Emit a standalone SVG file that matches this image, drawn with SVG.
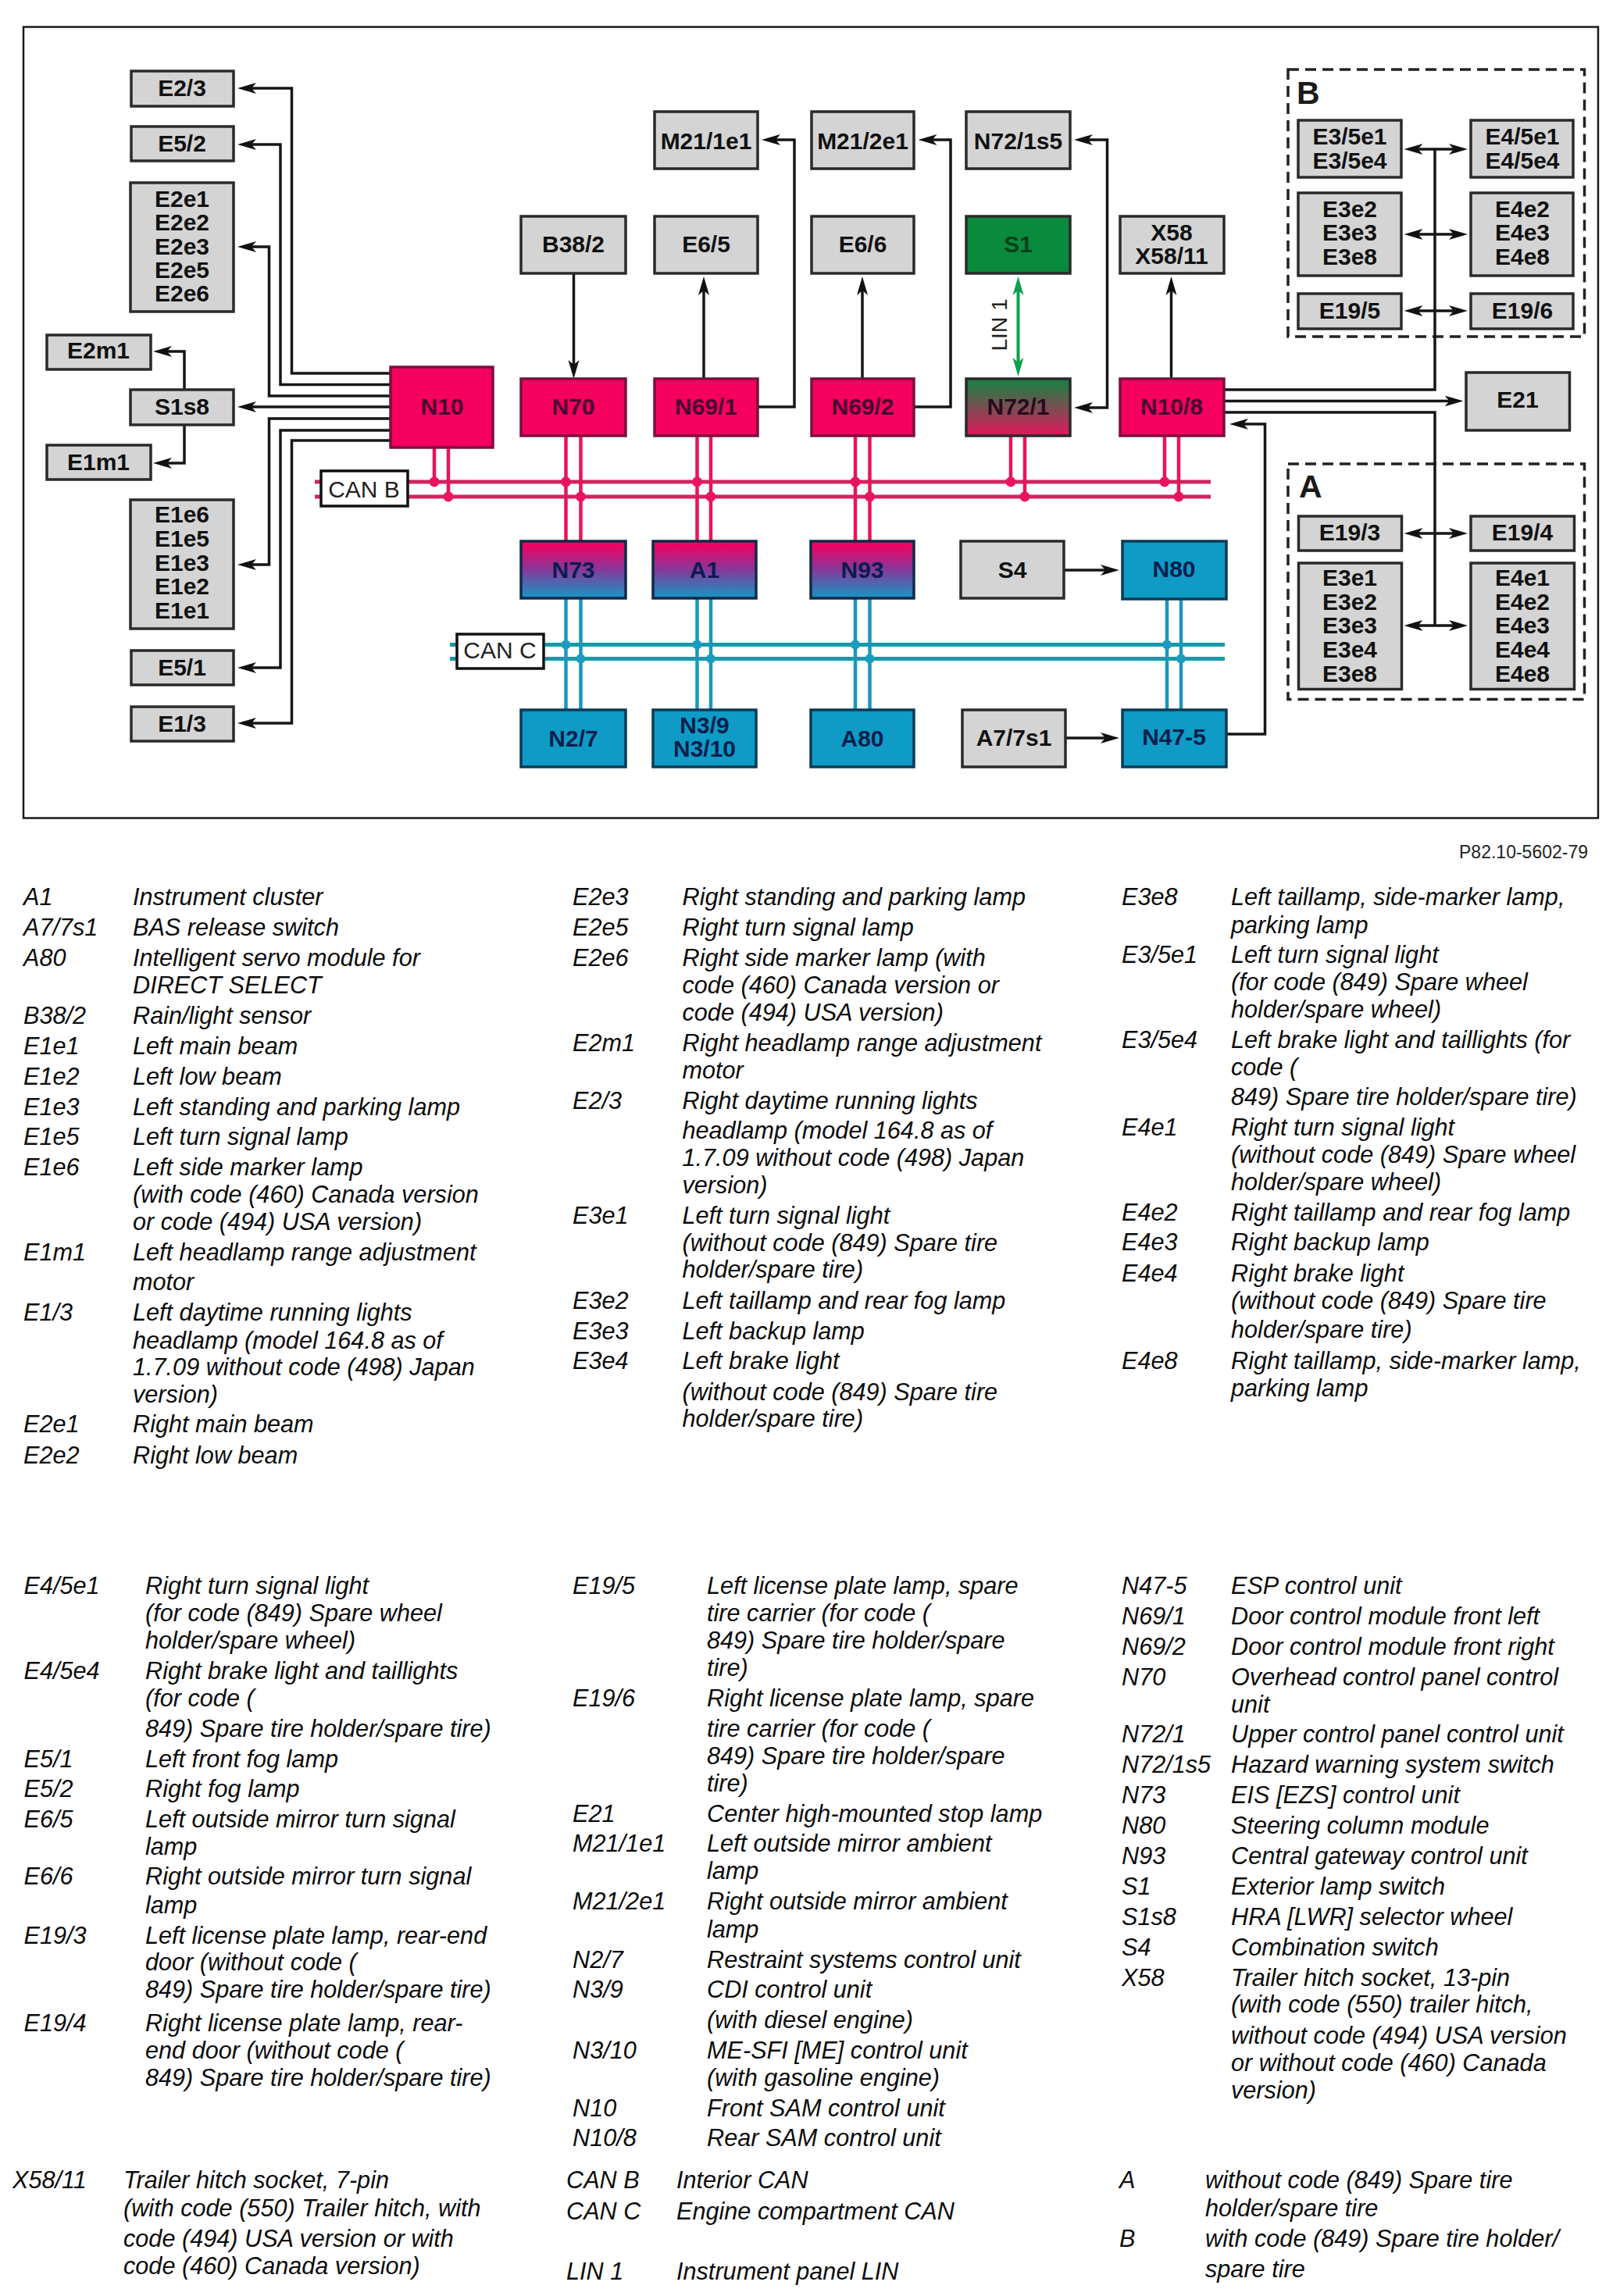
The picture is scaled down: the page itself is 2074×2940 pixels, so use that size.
<svg xmlns="http://www.w3.org/2000/svg" width="2074" height="2940" viewBox="0 0 2074 2940">
<style>
text{font-family:"Liberation Sans",Arial,sans-serif}
.n rect{stroke:#2a2a2a;stroke-width:3.500}
.n text{font-weight:700;font-size:30px;text-anchor:middle;fill:#111}
.g rect{fill:#d4d4d4}
.m rect{fill:#f5005f;stroke:#7a1040}
.m text{fill:#480430}
.c rect{fill:#0e9bc6;stroke:#0c3a55}
.c text{fill:#081e4c}
.f rect{fill:url(#mc);stroke:#102a48}
.f text{fill:#0a1c50}
.bus rect{fill:#fff;stroke:#111;stroke-width:3.500}
.bus text{font-size:30px;text-anchor:middle;fill:#222}
.w{fill:none;stroke:#161616;stroke-width:3.500}
.a{marker-end:url(#ah)}
.d{marker-start:url(#ah);marker-end:url(#ah)}
.dash{fill:none;stroke:#222;stroke-width:3.500;stroke-dasharray:14 8}
.big{font-size:41px;font-weight:700;fill:#1a1a1a}
.pk{stroke:#e8135f;stroke-width:4.500;fill:none}
.pb{stroke:#cf2460;stroke-width:5;fill:none}
.cy{stroke:#1a96bb;stroke-width:4.500;fill:none}
.cb{stroke:#159aa8;stroke-width:5;fill:none}
.pd{fill:#ea1360}
.cd{fill:#1a9cc0}
.l text{font-size:30.650px;font-style:italic;fill:#0c0c0c}
</style>
<defs>
<marker id="ah" markerUnits="userSpaceOnUse" markerWidth="28" markerHeight="18" refX="16" refY="9" orient="auto-start-reverse"><path d="M0 2 L24 9 L0 16 L6 9 Z" fill="#111"/></marker>
<marker id="ag" markerUnits="userSpaceOnUse" markerWidth="28" markerHeight="18" refX="16" refY="9" orient="auto-start-reverse"><path d="M0 2 L24 9 L0 16 L6 9 Z" fill="#0f9d50"/></marker>
<linearGradient id="mc" x1="0" y1="0" x2="0" y2="1"><stop offset="0.05" stop-color="#f5005f"/><stop offset="0.5" stop-color="#86389a"/><stop offset="0.95" stop-color="#1e8fc0"/></linearGradient>
<linearGradient id="gm" x1="0" y1="0" x2="0" y2="1"><stop offset="0.1" stop-color="#257a45"/><stop offset="0.95" stop-color="#d81c5c"/></linearGradient>
</defs>
<rect width="2074" height="2940" fill="#fff"/>
<rect id="frame" x="30" y="34.500" width="2016" height="1013" fill="#fff" stroke="#1a1a1a" stroke-width="2.500"/>

<g id="groups">
<rect class="dash" x="1649" y="89" width="379.500" height="342"/>
<text class="big" x="1660" y="133">B</text>
<rect class="dash" x="1649" y="594" width="379.500" height="301.500"/>
<text class="big" x="1663" y="637">A</text>
</g>

<g id="connectors">
<path class="w a" d="M500 478H373.500V113H312"/>
<path class="w a" d="M500 492.500H359V185H312"/>
<path class="w a" d="M500 507H344.500V316H312"/>
<path class="w a" d="M500 521H312"/>
<path class="w a" d="M500 536H344.500V723H312"/>
<path class="w a" d="M500 551H359V855H312"/>
<path class="w a" d="M500 564H373.500V926H312"/>
<path class="w a" d="M236 499V450H204"/>
<path class="w a" d="M236 544V593H204"/>
<path class="w a" d="M734.500 350V477"/>
<path class="w a" d="M901 485V362"/>
<path class="w a" d="M1104 485V362"/>
<path class="w a" d="M970 521H1017V179H983"/>
<path class="w a" d="M1170 521H1217V179H1183.500"/>
<path class="w d" d="M1383 179H1417.500V522H1383"/>
<path class="w a" d="M1499.500 485V362"/>
<path fill="none" stroke="#0f9d50" stroke-width="4" marker-start="url(#ag)" marker-end="url(#ag)" d="M1303.500 362V474"/>
<path class="w" d="M1567 499H1837V191"/>
<path class="w a" d="M1567 513.500H1865.500"/>
<path class="w" d="M1567 528H1837V801"/>
<path class="w a" d="M1570 940H1619.500V543H1582"/>
<path class="w d" d="M1805.500 191H1871"/>
<path class="w d" d="M1805.500 300H1871"/>
<path class="w d" d="M1805.500 398H1871"/>
<path class="w d" d="M1805.500 683H1871"/>
<path class="w d" d="M1805.500 801H1871"/>
<path class="w a" d="M1362 730H1425"/>
<path class="w a" d="M1364 945H1425"/>
<g id="can-b-bus">
<path class="pb" d="M403 617H1550M403 636H1550"/>
<path class="pk" d="M556 573V617M574 573V636M724.500 558V693M743.500 558V693M892.500 558V693M910 558V693M1095 558V693M1113.500 558V693M1294 558V617M1312 558V636M1491 558V617M1509 558V636"/>
<g class="pd"><circle cx="556" cy="617" r="6.500"/><circle cx="574" cy="636" r="6.500"/><circle cx="724.500" cy="617" r="6.500"/><circle cx="743.500" cy="636" r="6.500"/><circle cx="892.500" cy="617" r="6.500"/><circle cx="910" cy="636" r="6.500"/><circle cx="1095" cy="617" r="6.500"/><circle cx="1113.500" cy="636" r="6.500"/><circle cx="1294" cy="617" r="6.500"/><circle cx="1312" cy="636" r="6.500"/><circle cx="1491" cy="617" r="6.500"/><circle cx="1509" cy="636" r="6.500"/></g>
</g>
<g id="can-c-bus">
<path class="cb" d="M576 825.500H1568M576 843.500H1568"/>
<path class="cy" d="M724.500 766V909M743.500 766V909M892.500 766V909M910 766V909M1095 766V909M1113.500 766V909M1494 767V909M1512 767V909"/>
<g class="cd"><circle cx="724.500" cy="825.500" r="6"/><circle cx="743.500" cy="843.500" r="6"/><circle cx="892.500" cy="825.500" r="6"/><circle cx="910" cy="843.500" r="6"/><circle cx="1095" cy="825.500" r="6"/><circle cx="1113.500" cy="843.500" r="6"/><circle cx="1494" cy="825.500" r="6"/><circle cx="1512" cy="843.500" r="6"/></g>
</g>
<text id="lin1-label" transform="translate(1289 416) rotate(-90)" font-size="28" text-anchor="middle" fill="#222">LIN 1</text>
</g>

<g id="E2-3" class="n g"><rect x="168" y="91" width="131" height="45"/><text x="233" y="123">E2/3</text></g>
<g id="E5-2" class="n g"><rect x="168" y="162" width="131" height="44"/><text x="233" y="194">E5/2</text></g>
<g id="E2e" class="n g"><rect x="167" y="234" width="132" height="165"/><text x="233" y="264.500">E2e1</text><text x="233" y="295">E2e2</text><text x="233" y="325.500">E2e3</text><text x="233" y="355.500">E2e5</text><text x="233" y="386">E2e6</text></g>
<g id="E2m1" class="n g"><rect x="60" y="429" width="133" height="44"/><text x="126" y="459">E2m1</text></g>
<g id="S1s8" class="n g"><rect x="167" y="499" width="132" height="45"/><text x="233" y="531">S1s8</text></g>
<g id="E1m1" class="n g"><rect x="60" y="570" width="133" height="44"/><text x="126" y="602">E1m1</text></g>
<g id="E1e" class="n g"><rect x="167" y="640" width="132" height="165"/><text x="233" y="669">E1e6</text><text x="233" y="700">E1e5</text><text x="233" y="731">E1e3</text><text x="233" y="761">E1e2</text><text x="233" y="792">E1e1</text></g>
<g id="E5-1" class="n g"><rect x="168" y="833" width="131" height="44"/><text x="233" y="865">E5/1</text></g>
<g id="E1-3" class="n g"><rect x="168" y="905" width="131" height="44"/><text x="233" y="937">E1/3</text></g>
<g id="N10" class="n m"><rect x="500" y="470" width="131" height="103"/><text x="566" y="531">N10</text></g>
<g id="CAN-B" class="bus"><rect x="411" y="603" width="111" height="45"/><text x="466" y="637">CAN B</text></g>
<g id="CAN-C" class="bus"><rect x="585" y="812" width="111" height="44"/><text x="640" y="843">CAN C</text></g>
<g id="M21-1e1" class="n g"><rect x="838" y="143" width="132" height="73"/><text x="904" y="191">M21/1e1</text></g>
<g id="M21-2e1" class="n g"><rect x="1039" y="143" width="131" height="73"/><text x="1104.500" y="191">M21/2e1</text></g>
<g id="N72-1s5" class="n g"><rect x="1237" y="143" width="133" height="73"/><text x="1303.500" y="191">N72/1s5</text></g>
<g id="B38-2" class="n g"><rect x="667" y="277" width="134" height="73"/><text x="734" y="323">B38/2</text></g>
<g id="E6-5" class="n g"><rect x="838" y="277" width="132" height="73"/><text x="904" y="323">E6/5</text></g>
<g id="E6-6" class="n g"><rect x="1039" y="277" width="131" height="73"/><text x="1104.500" y="323">E6/6</text></g>
<g id="S1" class="n"><rect x="1237" y="277" width="133" height="73" fill="#0a8a3c" stroke="#0a5a28"/><text x="1303.500" y="323" style="fill:#033f18">S1</text></g>
<g id="X58" class="n g"><rect x="1434" y="277" width="133" height="73"/><text x="1500" y="307.500">X58</text><text x="1500" y="338">X58/11</text></g>
<g id="N70" class="n m"><rect x="667" y="485" width="134" height="73"/><text x="734" y="531">N70</text></g>
<g id="N69-1" class="n m"><rect x="838" y="485" width="132" height="73"/><text x="904" y="531">N69/1</text></g>
<g id="N69-2" class="n m"><rect x="1039" y="485" width="131" height="73"/><text x="1104.500" y="531">N69/2</text></g>
<g id="N72-1" class="n"><rect x="1237" y="485" width="133" height="73" fill="url(#gm)" stroke="#2a2a2a"/><text x="1303.500" y="531" style="fill:#2a0a20">N72/1</text></g>
<g id="N10-8" class="n m"><rect x="1434" y="485" width="133" height="73"/><text x="1500" y="531">N10/8</text></g>
<g id="N73" class="n f"><rect x="667" y="693" width="134" height="73"/><text x="734" y="740">N73</text></g>
<g id="A1" class="n f"><rect x="836" y="693" width="132" height="73"/><text x="902" y="740">A1</text></g>
<g id="N93" class="n f"><rect x="1038" y="693" width="132" height="73"/><text x="1104" y="740">N93</text></g>
<g id="S4" class="n g"><rect x="1230" y="693" width="132" height="73"/><text x="1296" y="740">S4</text></g>
<g id="N80" class="n c"><rect x="1437" y="693" width="133" height="74"/><text x="1503" y="739">N80</text></g>
<g id="N2-7" class="n c"><rect x="667" y="909" width="134" height="73"/><text x="734" y="956">N2/7</text></g>
<g id="N3" class="n c"><rect x="836" y="909" width="132" height="73"/><text x="902" y="939">N3/9</text><text x="902" y="969">N3/10</text></g>
<g id="A80" class="n c"><rect x="1038" y="909" width="132" height="73"/><text x="1104" y="956">A80</text></g>
<g id="A7-7s1" class="n g"><rect x="1232" y="909" width="132" height="73"/><text x="1298" y="955">A7/7s1</text></g>
<g id="N47-5" class="n c"><rect x="1437" y="909" width="133" height="73"/><text x="1503" y="954">N47-5</text></g>
<g id="E3-5" class="n g"><rect x="1662" y="154" width="132" height="73"/><text x="1728" y="185">E3/5e1</text><text x="1728" y="216">E3/5e4</text></g>
<g id="E4-5" class="n g"><rect x="1883" y="154" width="131" height="73"/><text x="1949" y="185">E4/5e1</text><text x="1949" y="216">E4/5e4</text></g>
<g id="E3e-b" class="n g"><rect x="1662" y="247" width="132" height="106"/><text x="1728" y="278">E3e2</text><text x="1728" y="308">E3e3</text><text x="1728" y="339">E3e8</text></g>
<g id="E4e-b" class="n g"><rect x="1883" y="247" width="131" height="106"/><text x="1949" y="278">E4e2</text><text x="1949" y="308">E4e3</text><text x="1949" y="339">E4e8</text></g>
<g id="E19-5" class="n g"><rect x="1662" y="376" width="132" height="45"/><text x="1728" y="408">E19/5</text></g>
<g id="E19-6" class="n g"><rect x="1883" y="376" width="131" height="45"/><text x="1949" y="408">E19/6</text></g>
<g id="E21" class="n g"><rect x="1877" y="477" width="132.500" height="74"/><text x="1943" y="522">E21</text></g>
<g id="E19-3" class="n g"><rect x="1662.500" y="661" width="132" height="44"/><text x="1728" y="692">E19/3</text></g>
<g id="E19-4" class="n g"><rect x="1883" y="661" width="132.500" height="44"/><text x="1949" y="692">E19/4</text></g>
<g id="E3e-a" class="n g"><rect x="1662.500" y="721" width="132" height="161.500"/><text x="1728" y="750">E3e1</text><text x="1728" y="781">E3e2</text><text x="1728" y="811">E3e3</text><text x="1728" y="842">E3e4</text><text x="1728" y="872.500">E3e8</text></g>
<g id="E4e-a" class="n g"><rect x="1883" y="721" width="132.500" height="161.500"/><text x="1949" y="750">E4e1</text><text x="1949" y="781">E4e2</text><text x="1949" y="811">E4e3</text><text x="1949" y="842">E4e4</text><text x="1949" y="872.500">E4e8</text></g>

<text id="ref-code" x="2033" y="1099" font-size="23" text-anchor="end" fill="#222">P82.10-5602-79</text>

<g id="legend" class="l">
<text x="30" y="1159">A1</text><text x="170" y="1159">Instrument cluster</text>
<text x="30" y="1198">A7/7s1</text><text x="170" y="1198">BAS release switch</text>
<text x="30" y="1237">A80</text><text x="170" y="1237">Intelligent servo module for</text>
<text x="170" y="1272">DIRECT SELECT</text>
<text x="30" y="1311">B38/2</text><text x="170" y="1311">Rain/light sensor</text>
<text x="30" y="1350">E1e1</text><text x="170" y="1350">Left main beam</text>
<text x="30" y="1389">E1e2</text><text x="170" y="1389">Left low beam</text>
<text x="30" y="1427.500">E1e3</text><text x="170" y="1427.500">Left standing and parking lamp</text>
<text x="30" y="1466">E1e5</text><text x="170" y="1466">Left turn signal lamp</text>
<text x="30" y="1504.500">E1e6</text><text x="170" y="1504.500">Left side marker lamp</text>
<text x="170" y="1540">(with code (460) Canada version</text>
<text x="170" y="1575">or code (494) USA version)</text>
<text x="30" y="1614">E1m1</text><text x="170" y="1614">Left headlamp range adjustment</text>
<text x="170" y="1652">motor</text>
<text x="30" y="1691">E1/3</text><text x="170" y="1691">Left daytime running lights</text>
<text x="170" y="1726.500">headlamp (model 164.8 as of</text>
<text x="170" y="1761">1.7.09 without code (498) Japan</text>
<text x="170" y="1795.500">version)</text>
<text x="30" y="1834">E2e1</text><text x="170" y="1834">Right main beam</text>
<text x="30" y="1874">E2e2</text><text x="170" y="1874">Right low beam</text>

<text x="733" y="1159">E2e3</text><text x="873.500" y="1159">Right standing and parking lamp</text>
<text x="733" y="1198">E2e5</text><text x="873.500" y="1198">Right turn signal lamp</text>
<text x="733" y="1237">E2e6</text><text x="873.500" y="1237">Right side marker lamp (with</text>
<text x="873.500" y="1272">code (460) Canada version or</text>
<text x="873.500" y="1307">code (494) USA version)</text>
<text x="733" y="1346">E2m1</text><text x="873.500" y="1346">Right headlamp range adjustment</text>
<text x="873.500" y="1381">motor</text>
<text x="733" y="1420">E2/3</text><text x="873.500" y="1420">Right daytime running lights</text>
<text x="873.500" y="1458">headlamp (model 164.8 as of</text>
<text x="873.500" y="1493">1.7.09 without code (498) Japan</text>
<text x="873.500" y="1528">version)</text>
<text x="733" y="1567">E3e1</text><text x="873.500" y="1567">Left turn signal light</text>
<text x="873.500" y="1602">(without code (849) Spare tire</text>
<text x="873.500" y="1636">holder/spare tire)</text>
<text x="733" y="1676">E3e2</text><text x="873.500" y="1676">Left taillamp and rear fog lamp</text>
<text x="733" y="1714.500">E3e3</text><text x="873.500" y="1714.500">Left backup lamp</text>
<text x="733" y="1753">E3e4</text><text x="873.500" y="1753">Left brake light</text>
<text x="873.500" y="1792.500">(without code (849) Spare tire</text>
<text x="873.500" y="1826.500">holder/spare tire)</text>

<text x="1436" y="1158.500">E3e8</text><text x="1576" y="1158.500">Left taillamp, side-marker lamp,</text>
<text x="1576" y="1194.500">parking lamp</text>
<text x="1436" y="1233">E3/5e1</text><text x="1576" y="1233">Left turn signal light</text>
<text x="1576" y="1268">(for code (849) Spare wheel</text>
<text x="1576" y="1303">holder/spare wheel)</text>
<text x="1436" y="1341.500">E3/5e4</text><text x="1576" y="1341.500">Left brake light and taillights (for</text>
<text x="1576" y="1377">code (</text>
<text x="1576" y="1415">849) Spare tire holder/spare tire)</text>
<text x="1436" y="1454">E4e1</text><text x="1576" y="1454">Right turn signal light</text>
<text x="1576" y="1489">(without code (849) Spare wheel</text>
<text x="1576" y="1524">holder/spare wheel)</text>
<text x="1436" y="1563">E4e2</text><text x="1576" y="1563">Right taillamp and rear fog lamp</text>
<text x="1436" y="1601">E4e3</text><text x="1576" y="1601">Right backup lamp</text>
<text x="1436" y="1640.500">E4e4</text><text x="1576" y="1640.500">Right brake light</text>
<text x="1576" y="1675.500">(without code (849) Spare tire</text>
<text x="1576" y="1713">holder/spare tire)</text>
<text x="1436" y="1752.500">E4e8</text><text x="1576" y="1752.500">Right taillamp, side-marker lamp,</text>
<text x="1576" y="1788">parking lamp</text>

<text x="30.500" y="2041">E4/5e1</text><text x="186" y="2041">Right turn signal light</text>
<text x="186" y="2076">(for code (849) Spare wheel</text>
<text x="186" y="2111">holder/spare wheel)</text>
<text x="30.500" y="2150">E4/5e4</text><text x="186" y="2150">Right brake light and taillights</text>
<text x="186" y="2184.500">(for code (</text>
<text x="186" y="2223.500">849) Spare tire holder/spare tire)</text>
<text x="30.500" y="2262.500">E5/1</text><text x="186" y="2262.500">Left front fog lamp</text>
<text x="30.500" y="2301">E5/2</text><text x="186" y="2301">Right fog lamp</text>
<text x="30.500" y="2340">E6/5</text><text x="186" y="2340">Left outside mirror turn signal</text>
<text x="186" y="2375">lamp</text>
<text x="30.500" y="2413">E6/6</text><text x="186" y="2413">Right outside mirror turn signal</text>
<text x="186" y="2449.500">lamp</text>
<text x="30.500" y="2488.500">E19/3</text><text x="186" y="2488.500">Left license plate lamp, rear-end</text>
<text x="186" y="2523">door (without code (</text>
<text x="186" y="2558">849) Spare tire holder/spare tire)</text>
<text x="30.500" y="2601">E19/4</text><text x="186" y="2601">Right license plate lamp, rear-</text>
<text x="186" y="2636">end door (without code (</text>
<text x="186" y="2671">849) Spare tire holder/spare tire)</text>

<text x="733" y="2041">E19/5</text><text x="905" y="2041">Left license plate lamp, spare</text>
<text x="905" y="2076">tire carrier (for code (</text>
<text x="905" y="2111">849) Spare tire holder/spare</text>
<text x="905" y="2145.500">tire)</text>
<text x="733" y="2184.500">E19/6</text><text x="905" y="2184.500">Right license plate lamp, spare</text>
<text x="905" y="2223.500">tire carrier (for code (</text>
<text x="905" y="2258.500">849) Spare tire holder/spare</text>
<text x="905" y="2294">tire)</text>
<text x="733" y="2332.500">E21</text><text x="905" y="2332.500">Center high-mounted stop lamp</text>
<text x="733" y="2370.500">M21/1e1</text><text x="905" y="2370.500">Left outside mirror ambient</text>
<text x="905" y="2406">lamp</text>
<text x="733" y="2445">M21/2e1</text><text x="905" y="2445">Right outside mirror ambient</text>
<text x="905" y="2481">lamp</text>
<text x="733" y="2520">N2/7</text><text x="905" y="2520">Restraint systems control unit</text>
<text x="733" y="2558">N3/9</text><text x="905" y="2558">CDI control unit</text>
<text x="905" y="2597">(with diesel engine)</text>
<text x="733" y="2636">N3/10</text><text x="905" y="2636">ME-SFI [ME] control unit</text>
<text x="905" y="2671">(with gasoline engine)</text>
<text x="733" y="2710">N10</text><text x="905" y="2710">Front SAM control unit</text>
<text x="733" y="2748">N10/8</text><text x="905" y="2748">Rear SAM control unit</text>

<text x="1436" y="2041">N47-5</text><text x="1576" y="2041">ESP control unit</text>
<text x="1436" y="2080">N69/1</text><text x="1576" y="2080">Door control module front left</text>
<text x="1436" y="2118.500">N69/2</text><text x="1576" y="2118.500">Door control module front right</text>
<text x="1436" y="2157.500">N70</text><text x="1576" y="2157.500">Overhead control panel control</text>
<text x="1576" y="2193">unit</text>
<text x="1436" y="2231">N72/1</text><text x="1576" y="2231">Upper control panel control unit</text>
<text x="1436" y="2270">N72/1s5</text><text x="1576" y="2270">Hazard warning system switch</text>
<text x="1436" y="2309">N73</text><text x="1576" y="2309">EIS [EZS] control unit</text>
<text x="1436" y="2347.500">N80</text><text x="1576" y="2347.500">Steering column module</text>
<text x="1436" y="2386.500">N93</text><text x="1576" y="2386.500">Central gateway control unit</text>
<text x="1436" y="2425.500">S1</text><text x="1576" y="2425.500">Exterior lamp switch</text>
<text x="1436" y="2464.500">S1s8</text><text x="1576" y="2464.500">HRA [LWR] selector wheel</text>
<text x="1436" y="2503.500">S4</text><text x="1576" y="2503.500">Combination switch</text>
<text x="1436" y="2542.500">X58</text><text x="1576" y="2542.500">Trailer hitch socket, 13-pin</text>
<text x="1576" y="2577">(with code (550) trailer hitch,</text>
<text x="1576" y="2617">without code (494) USA version</text>
<text x="1576" y="2651.500">or without code (460) Canada</text>
<text x="1576" y="2686.500">version)</text>

<text x="16" y="2801.500">X58/11</text><text x="158" y="2801.500">Trailer hitch socket, 7-pin</text>
<text x="158" y="2837.500">(with code (550) Trailer hitch, with</text>
<text x="158" y="2876.500">code (494) USA version or with</text>
<text x="158" y="2912">code (460) Canada version)</text>
<text x="725" y="2801.500">CAN B</text><text x="866" y="2801.500">Interior CAN</text>
<text x="725" y="2842">CAN C</text><text x="866" y="2842">Engine compartment CAN</text>
<text x="725" y="2919">LIN 1</text><text x="866" y="2919">Instrument panel LIN</text>
<text x="1433" y="2801.500">A</text><text x="1543" y="2801.500">without code (849) Spare tire</text>
<text x="1543" y="2837.500">holder/spare tire</text>
<text x="1433" y="2876.500">B</text><text x="1543" y="2876.500">with code (849) Spare tire holder/</text>
<text x="1543" y="2915.500">spare tire</text>
</g>
</svg>
